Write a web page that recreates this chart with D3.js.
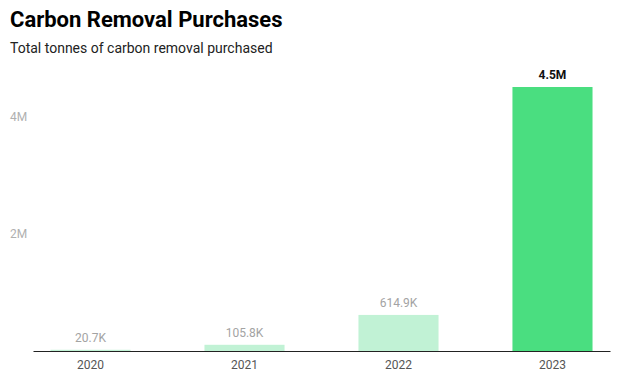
<!DOCTYPE html>
<html><head><meta charset="utf-8">
<script src="https://cdn.jsdelivr.net/npm/d3@7"></script>
<style>
body{margin:0;background:#fff;font-family:Roboto,"Noto Sans",sans-serif;}
</style></head>
<body><svg id="c" width="618" height="380"></svg>
<script>
const years = ["2020","2021","2022","2023"];
const tonnes = [20700, 105800, 614900, 4500000];
const valueLabels = ["20.7K","105.8K","614.9K","4.5M"];
const yTicks = [2000000, 4000000];
const yTickLabels = ["2M","4M"];

const svg = d3.select("#c");
svg.append("text").attr("x",10).attr("y",27).attr("font-size",22).attr("font-weight",700)
  .attr("fill","#000").text("Carbon Removal Purchases");
svg.append("text").attr("x",10).attr("y",53).attr("font-size",14).attr("fill","#222")
  .text("Total tonnes of carbon removal purchased");

const x = d3.scaleBand().domain(years).range([33,610]).paddingInner(0.48).paddingOuter(0.1135);
const y = d3.scaleLinear().domain([0,4500000]).range([351,87]);

svg.selectAll("rect.bar").data(years).enter().append("rect")
  .attr("x",d=>x(d)).attr("width",x.bandwidth())
  .attr("y",(d,i)=>y(tonnes[i])).attr("height",(d,i)=>y(0)-y(tonnes[i]))
  .attr("fill",(d,i)=> i===years.length-1 ? "#4ade80" : "#c1f2d5");

svg.selectAll("text.val").data(years).enter().append("text")
  .attr("x",d=>x(d)+x.bandwidth()/2).attr("y",(d,i)=>y(tonnes[i])-8)
  .attr("text-anchor","middle").attr("font-size",12)
  .attr("font-weight",(d,i)=> i===years.length-1 ? 700 : 400)
  .attr("fill",(d,i)=> i===years.length-1 ? "#111" : "#a3a3a3")
  .text((d,i)=>valueLabels[i]);

const xAxis = d3.axisBottom(x).tickSize(0).tickPadding(9);
const gx = svg.append("g").attr("transform",`translate(0,${y(0)})`).call(xAxis);
gx.select(".domain").attr("stroke","#222").attr("stroke-width",1.2);
gx.selectAll("text").attr("font-size",12).attr("fill","#555").attr("font-family","Roboto, sans-serif");

const yAxis = d3.axisLeft(y).tickValues(yTicks).tickFormat((d,i)=>yTickLabels[i]).tickSize(0);
const gy = svg.append("g").attr("transform","translate(10,0)").call(yAxis);
gy.select(".domain").remove();
gy.selectAll("text").attr("text-anchor","start").attr("x",0).attr("font-size",12)
  .attr("fill","#b0b0b0").attr("font-family","Roboto, sans-serif");
</script></body></html>
